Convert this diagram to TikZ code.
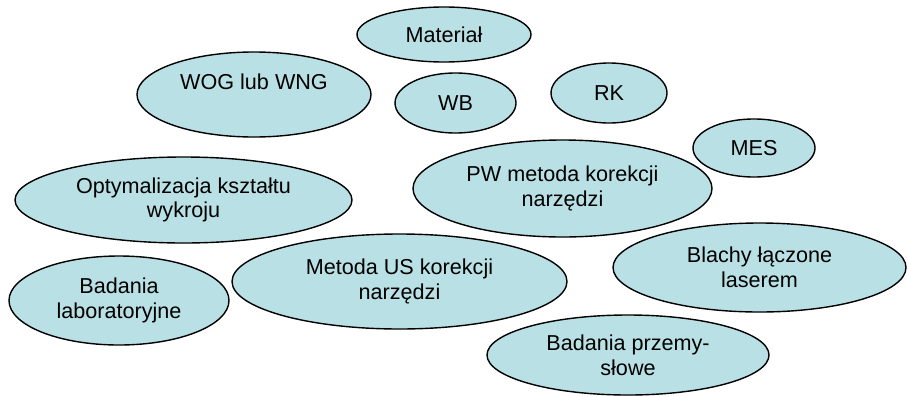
\documentclass[tikz,border=0pt]{standalone}
\definecolor{Seafoam}{HTML}{B9E0E4}
\definecolor{Outline}{HTML}{000000}
\usepackage{fontspec}
\setmainfont{Liberation Sans}
\usepackage{tikz}
\usetikzlibrary{shapes.geometric}
\tikzset{
    % Light teal ovals, thin black outline
    ovalbox/.style={
        ellipse,
        draw=Outline,
        fill=Seafoam,
        line width=0.7pt,
        inner sep=0pt,
        align=center,
        font=\fontsize{10.8}{12.3}\selectfont
    }
}

\begin{document}
\begin{tikzpicture}[x=0.5pt, y=-0.5pt]
            \useasboundingbox (0,0) rectangle (908,396);

            % Top row
            \node[ovalbox, minimum width=87pt, minimum height=27.5pt] (material) at (444,34.5) {Materiał};
            \node[ovalbox, minimum width=117pt, minimum height=42.5pt, text depth=12.6pt] (wog) at (254,94.5) {WOG lub WNG};
            \node[ovalbox, minimum width=60.5pt, minimum height=30pt] (wb) at (455.5,103) {WB};
            \node[ovalbox, minimum width=58pt, minimum height=30pt] (rk) at (609,93) {RK};
            \node[ovalbox, minimum width=61pt, minimum height=29pt] (mes) at (754,148) {MES};

            % Middle row
            \node[ovalbox, minimum width=149.5pt, minimum height=48.5pt] (pw) at (562.5,188.5) {PW metoda korekcji\\narzędzi};
            \node[ovalbox, minimum width=168.5pt, minimum height=43pt] (optym) at (183.5,200) {Optymalizacja kształtu\\wykroju};

            % Bottom row
            \node[ovalbox, minimum width=167.5pt, minimum height=47.5pt] (metoda) at (399.5,281.5) {Metoda US korekcji\\narzędzi};
            \node[ovalbox, minimum width=110pt, minimum height=44.5pt] (badlab) at (119,300.5) {Badania\\laboratoryjne};
            \node[ovalbox, minimum width=146.5pt, minimum height=44.5pt] (blachy) at (759.5,267.5) {Blachy łączone\\laserem};
            \node[ovalbox, minimum width=141pt, minimum height=40pt] (badprz) at (628,355) {Badania przemy-\\słowe};
        \end{tikzpicture}
\end{document}
